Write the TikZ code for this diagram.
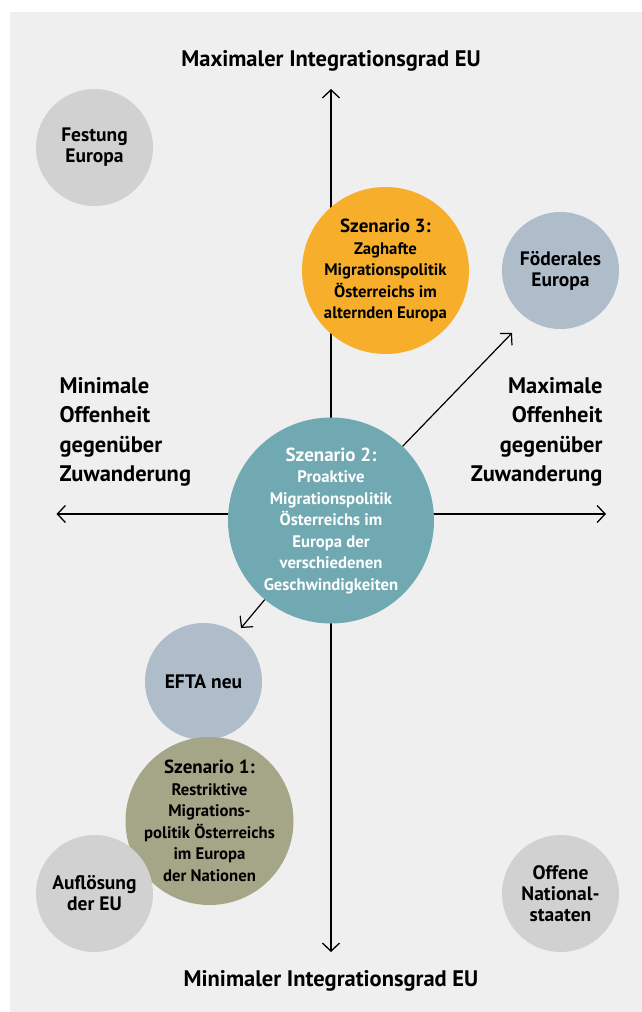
\documentclass[tikz,border=0pt]{standalone}
\usepackage{fontspec}
\setmainfont{PT Sans}
\usetikzlibrary{arrows.meta}

\definecolor{bgGray}{HTML}{EFEFEF}
\definecolor{circGray}{HTML}{D1D1D1}
\definecolor{circBlue}{HTML}{AFBDCB}
\definecolor{scenOrange}{HTML}{F7AF2B}
\definecolor{scenTeal}{HTML}{70A9B1}
\definecolor{scenOlive}{HTML}{A5A688}

\begin{document}
\begin{tikzpicture}[
    x=1pt, y=-1pt,
    bubble/.style={circle, inner sep=0pt, minimum size=117pt, align=center,
                   font=\bfseries\fontsize{19.5}{21}\selectfont},
    scenario/.style={circle, inner sep=0pt, align=center,
                     font=\bfseries\fontsize{16.7}{21.5}\selectfont},
    axislabel/.style={align=center, font=\bfseries\fontsize{22.5}{29.5}\selectfont},
    axis/.style={line width=1.3pt, {Straight Barb[length=8pt,width=17pt]}-{Straight Barb[length=8pt,width=17pt]}},
    trend/.style={line width=1.2pt, -{Straight Barb[length=8pt,width=17pt]}}
]
\useasboundingbox (0,0) rectangle (642,1012);
\fill[bgGray] (10,12) rectangle (642,1012);

% Axes
\coordinate (axTop) at (331,89);
\coordinate (axBot) at (331,952);
\coordinate (axLeft) at (56.5,514);
\coordinate (axRight) at (606,514);
\draw[axis] (axBot) -- (axTop);
\draw[axis] (axLeft) -- (axRight);

% Axis labels
\node[axislabel] (maxInt) at (331,61) {Maximaler Integrationsgrad EU};
\node[axislabel] (minInt) at (331,981) {Minimaler Integrationsgrad EU};
\node[axislabel, align=left, anchor=west] (minOpen) at (56,432)
    {Minimale\\Offenheit\\gegenüber\\Zuwanderung};
\node[axislabel, align=right, anchor=east] (maxOpen) at (606,432)
    {Maximale\\Offenheit\\gegenüber\\Zuwanderung};

% Corner bubbles
\node[bubble, fill=circGray] (festung) at (94.5,147.5) {Festung\\Europa};
\node[bubble, fill=circBlue] (foederal) at (560.5,270.5) {Föderales\\Europa};
\node[bubble, fill=circGray] (offen) at (560.5,893.5) {Offene\\National-\\staaten};
\node[bubble, fill=circBlue] (efta) at (203.5,681.5) {EFTA neu};

% Scenario 1
\node[scenario, fill=scenOlive, inner sep=-8pt, minimum size=168pt] (scen1) at (209.5,821) {%
    {\fontsize{19}{21}\selectfont Szenario 1:}\\
    Restriktive\\Migrations-\\politik Österreichs\\im Europa\\der Nationen};
\node[bubble, fill=circGray] (aufl) at (94.5,893.5) {Auflösung\\der EU};

% Scenario 3
\node[scenario, fill=scenOrange, minimum size=167pt] (scen3) at (385.5,270.5) {%
    {\fontsize{19}{21}\selectfont Szenario 3:}\\
    Zaghafte\\Migrationspolitik\\Österreichs im\\alternden Europa};

% Scenario 2
\node[scenario, fill=scenTeal, text=white, inner sep=-2pt, minimum size=206pt] (scen2) at (331,520.5) {%
    {\fontsize{19}{21}\selectfont Szenario 2:}\\
    Proaktive\\Migrationspolitik\\Österreichs im\\Europa der\\verschiedenen\\Geschwindigkeiten};

% Trend arrows
\coordinate (fedTip) at (512,333);
\coordinate (eftaTip) at (241,628);
\draw[trend] (scen2) -- (fedTip);
\draw[trend] (scen2) -- (eftaTip);

\end{tikzpicture}
\end{document}
